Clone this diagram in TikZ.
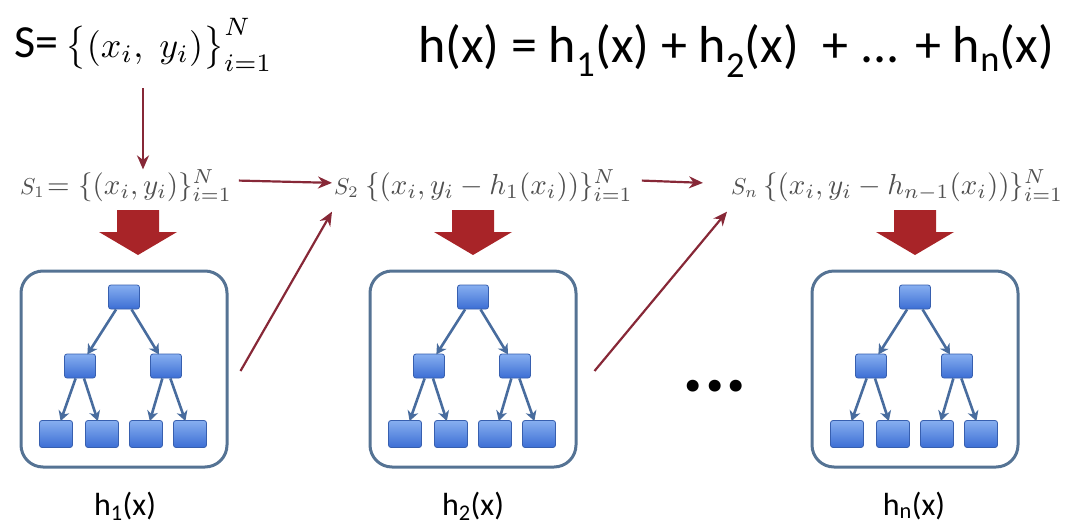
\documentclass[tikz,border=0pt]{standalone}
\usepackage{graphicx}
\usepackage{fontspec}
\setsansfont{Carlito}
\usetikzlibrary{arrows.meta}
\definecolor{flowred}{RGB}{135,40,55}
\definecolor{bigred}{RGB}{168,36,40}
\definecolor{boxblue}{RGB}{85,115,148}
\definecolor{treeedge}{RGB}{72,108,158}
\definecolor{nodetop}{RGB}{135,175,240}
\definecolor{nodebot}{RGB}{60,110,212}
\definecolor{nodeline}{RGB}{55,95,175}
\definecolor{fade}{RGB}{80,80,80}
\newcommand\treebox[2]{%
  \node[modelbox] (#1box) at (#2,369) {};
  \node[tnode] (#1r) at (#2,297) {};
  \node[tnode] (#1a) at (#2-44,366) {};
  \node[tnode] (#1b) at (#2+42,366) {};
  \node[leaf] (#1l1) at (#2-68,434) {};
  \node[leaf] (#1l2) at (#2-22,434) {};
  \node[leaf] (#1l3) at (#2+22,434) {};
  \node[leaf] (#1l4) at (#2+66,434) {};
  \draw[tedge] (#1r) -- (#1a);
  \draw[tedge] (#1r) -- (#1b);
  \draw[tedge] (#1a) -- (#1l1);
  \draw[tedge] (#1a) -- (#1l2);
  \draw[tedge] (#1b) -- (#1l3);
  \draw[tedge] (#1b) -- (#1l4);
}
\newcommand\bigdown[1]{%
  \fill[bigred] (#1-21,210) -- (#1+21,210) -- (#1+21,232) -- (#1+39,232)
    -- (#1,255) -- (#1-39,232) -- (#1-21,232) -- cycle;
}
\newcommand\midmath[1]{\scalebox{2.9}{\fontsize{10}{12}\selectfont$#1$}}
\newcommand\smallmath[1]{\scalebox{2.3}{\fontsize{10}{12}\selectfont$#1$}}
\begin{document}
\begin{tikzpicture}[x=1pt,y=-1pt,
  tnode/.style={draw=nodeline, line width=0.8pt, top color=nodetop, bottom color=nodebot,
    rounded corners=2.5pt, minimum width=31pt, minimum height=24pt, inner sep=0pt},
  leaf/.style={tnode, minimum width=33pt, minimum height=27pt},
  tedge/.style={-{Stealth[length=10pt,width=11pt,inset=3pt]}, draw=treeedge, line width=2.6pt, shorten >=-1pt},
  modelbox/.style={draw=boxblue, line width=3pt, rounded corners=22pt,
    minimum width=206pt, minimum height=196pt, fill=white},
  flow/.style={-{Stealth[length=14pt,width=12pt]}, draw=flowred, line width=2.2pt},
  faded/.style={text=fade, inner sep=0pt, anchor=base west},
  lab/.style={font=\sffamily\fontsize{32}{34}\selectfont, inner sep=0pt, anchor=base}
]
\useasboundingbox (0,0) rectangle (1084,525);

% top formulas
\node[font=\sffamily\fontsize{46}{48}\selectfont, inner sep=0pt, anchor=base west] (S)
  at (14,57) {S=\,\scalebox{3.6}{\fontsize{10}{12}\selectfont$\bigl\{(x_i,\;y_i)\bigr\}_{i=1}^{N}$}};
\node[font=\sffamily\fontsize{52}{56}\selectfont, inner sep=0pt, anchor=base west] (H)
  at (418,62) {h(x) = h\textsubscript{1}(x) + h\textsubscript{2}(x) \ + ... + h\textsubscript{n}(x)};

% middle row
\node[faded] (S1) at (20,194) {\smallmath{S_1}};
\node[faded] (eq1) at (47,194) {\midmath{=}};
\node[faded] (set1) at (78,194) {\midmath{\{(x_i,y_i)\}_{i=1}^{N}}};
\node[faded] (S2) at (334,194) {\smallmath{S_2}};
\node[faded] (set2) at (365,194) {\midmath{\{(x_i,y_i-h_1(x_i))\}_{i=1}^{N}}};
\node[faded] (Sn) at (731,194) {\smallmath{S_n}};
\node[faded] (setn) at (763,194) {\midmath{\{(x_i,y_i-h_{n-1}(x_i))\}_{i=1}^{N}}};

\coordinate (topsrc) at (143,88);
\draw[flow] (topsrc) -- (topsrc |- set1.north);
\draw[flow] ([xshift=7pt,yshift=5pt]set1.east) -- ([xshift=-2pt,yshift=5pt]S2.west);
\draw[flow] ([xshift=9pt,yshift=5pt]set2.east) -- ([xshift=-28pt,yshift=5pt]Sn.west);

% big arrows
\bigdown{138}
\bigdown{473}
\bigdown{915}

% model boxes
\treebox{p}{124}
\treebox{q}{473}
\treebox{m}{915}

% diagonal arrows
\draw[flow] ([xshift=12pt,yshift=-2pt]pbox.east) -- ([shift={(-2pt,-14pt)}]S2.south west);
\draw[flow] ([xshift=17pt,yshift=-2pt]qbox.east) -- ([shift={(-4pt,-14pt)}]Sn.south west);

% dots
\node[font=\sffamily\bfseries\fontsize{80}{80}\selectfont, inner sep=0pt, anchor=base] (dots) at (715,391) {...};

% labels
\node[lab] (l1) at (125,515) {h\textsubscript{1}(x)};
\node[lab] (l2) at (473,515) {h\textsubscript{2}(x)};
\node[lab] (ln) at (914,515) {h\textsubscript{n}(x)};
\end{tikzpicture}
\end{document}
